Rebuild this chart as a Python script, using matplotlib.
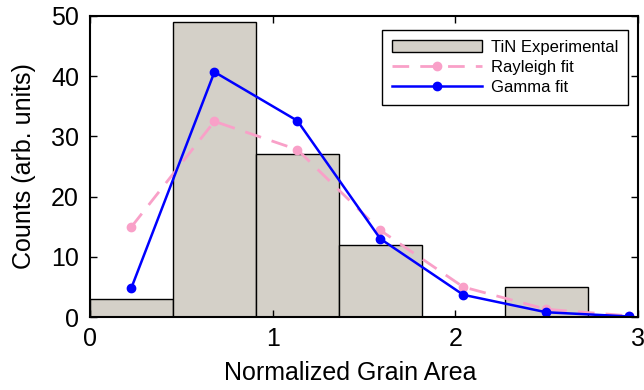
import matplotlib
matplotlib.use('Agg')
import matplotlib.pyplot as plt
import numpy as np

plt.rcParams['font.family'] = ['Liberation Sans', 'DejaVu Sans']

# histogram data
bin_width = 0.454
bin_centers = bin_width * (np.arange(7) + 0.5)
counts = [3, 49, 27, 12, 0, 5, 0]

# fits evaluated at bin centers
rayleigh = [15.0, 32.5, 27.8, 14.4, 5.0, 1.3, 0.2]
gamma = [4.9, 40.7, 32.6, 13.0, 3.7, 0.8, 0.1]

fig = plt.figure(figsize=(6.44, 3.90), dpi=100)
ax = fig.add_axes([0.1398, 0.187, 0.851, 0.772])

bars = ax.bar(bin_centers, counts, width=bin_width, color='#d4d0c8',
              edgecolor='black', linewidth=1.0, label='TiN Experimental')
l1, = ax.plot(bin_centers, rayleigh, color='#f9a0c8', linestyle=(0, (6, 4)), lw=2,
              marker='o', ms=6, label='Rayleigh fit')
l2, = ax.plot(bin_centers, gamma, color='#0000ff', lw=1.8,
              marker='o', ms=6, label='Gamma fit')

ax.set_xlim(0, 3)
ax.set_ylim(0, 50)
ax.set_xticks([0, 1, 2, 3])
ax.set_yticks([0, 10, 20, 30, 40, 50])
ax.tick_params(direction='in', top=True, right=True, labelsize=18, length=5, width=1)
ax.tick_params(axis='x', pad=7)
ax.tick_params(axis='y', pad=8)
for s in ax.spines.values():
    s.set_linewidth(1.5)
ax.set_xlabel('Normalized Grain Area', fontsize=18)
ax.set_ylabel('Counts (arb. units)', fontsize=18)
ax.xaxis.set_label_coords(0.474, -0.145)
ax.yaxis.set_label_coords(-0.098, 0.5)

leg = ax.legend([bars, l1, l2], ['TiN Experimental', 'Rayleigh fit', 'Gamma fit'],
                loc='upper right', fontsize=12, fancybox=False, framealpha=1,
                edgecolor='black', handlelength=5.4, handletextpad=0.55,
                borderpad=0.6, labelspacing=0.3, borderaxespad=0,
                bbox_to_anchor=(0.982, 0.953))
leg.get_frame().set_linewidth(1.0)

plt.savefig('out.png', dpi=100)
